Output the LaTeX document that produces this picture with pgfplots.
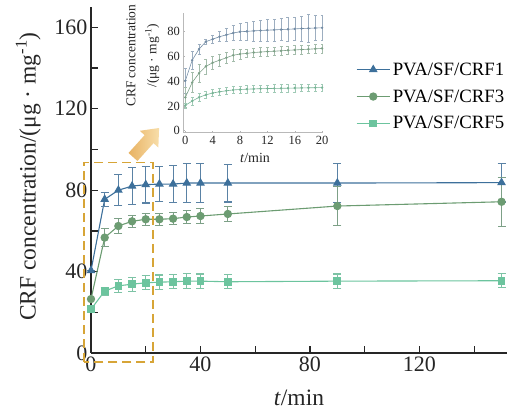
\documentclass[border=0pt]{standalone}
\usepackage{pgfplots}
\pgfplotsset{compat=1.18}
\usepackage{pgfplotstable}
\usepackage{fontspec}
\setmainfont{Liberation Serif}
\definecolor{cA}{RGB}{61,112,155}
\definecolor{cB}{RGB}{108,156,114}
\definecolor{cC}{RGB}{108,196,158}
\definecolor{eA}{RGB}{90,130,165}
\definecolor{eB}{RGB}{125,160,135}
\definecolor{eC}{RGB}{125,195,165}
\definecolor{iA}{RGB}{115,140,165}
\definecolor{iB}{RGB}{125,160,135}
\definecolor{iC}{RGB}{120,180,150}
\definecolor{gold}{RGB}{215,165,55}
\definecolor{arL}{RGB}{248,222,170}
\definecolor{arD}{RGB}{232,178,98}

\pgfplotstableread{
x y e
0 40.5 0
5 75.5 3.5
10 80 7.5
15 82 9
20 82.7 9
25 83 8.5
30 83 9
35 83.5 9.5
40 83.5 9.5
50 83.5 9.3
90 83.5 9.7
150 83.7 9.5
}\mainA
\pgfplotstableread{
x y e
0 26.5 0
5 56.7 4.5
10 62.4 3.5
15 64.7 3
20 65.7 3
25 65.7 3
30 66 3
35 66.8 3
40 67.3 3.5
50 68.3 3.5
90 72.2 9.6
150 74.3 12
}\mainB
\pgfplotstableread{
x y e
0 21.5 0
5 30.4 2
10 33 3.3
15 33.8 3.5
20 34.5 3.5
25 34.8 3.5
30 35 3.5
35 35.3 3.7
40 35.3 3.5
50 35 3.5
90 35.3 3.5
150 35.5 3.5
}\mainC
\pgfplotstableread{
x y e
0 40.5 10
1 57 7
2 66 4
3 72 2
4 74 3
5 76 4
6 77.5 5
7 79 6
8 80 7
9 80.3 7.5
10 80.7 8
11 81 8.5
12 81.3 9
13 81.5 9
14 81.8 9
15 82 9.5
16 82.3 9.5
17 82.6 10
18 82.8 11
19 83 10
20 83.2 10
}\insA
\pgfplotstableread{
x y e
0 27 8
1 39 8
2 46.5 7
3 52 6
4 55 5
5 57 5
6 59 4.5
7 61 4.5
8 62 4
9 62.5 3.5
10 63.2 3.5
11 63.6 3.5
12 64 3.5
13 64.3 3.5
14 64.6 3.5
15 65 3.5
16 65.3 3.5
17 65.6 3.5
18 65.9 3.5
19 66.2 3.5
20 66.5 3.5
}\insB
\pgfplotstableread{
x y e
0 20.5 2
1 24 3
2 27 3
3 29 3
4 30.5 3
5 31.5 3
6 32.3 3
7 33 3
8 33.3 3
9 33.6 3
10 33.8 3
11 34 3
12 34.1 3
13 34.2 3
14 34.3 3
15 34.4 3
16 34.5 3
17 34.6 3
18 34.7 3
19 34.8 3
20 34.9 3
}\insC

\begin{document}
\begin{tikzpicture}
\path[use as bounding box] (0pt,0pt) rectangle (511pt,411pt);
\begin{axis}[
  at={(91pt,58pt)}, anchor=south west,
  width=416pt, height=346pt, scale only axis,
  xmin=0, xmax=152, ymin=0, ymax=170,
  axis x line*=bottom, axis y line*=left,
  axis line style={line width=1.3pt, black!85, -},
  xtick={0,40,80,120}, minor xtick={20,60,100,140},
  ytick={0,40,80,120,160}, minor ytick={20,60,100,140},
  tick align=inside, major tick length=7pt, minor tick length=7pt,
  every tick/.style={line width=1.3pt, black!85},
  every minor tick/.style={line width=1.3pt, black!85},
  tick label style={font=\fontsize{22}{22}\selectfont, black!85},
  /pgf/number format/assume math mode=true,
  xlabel={\textit{t}/min},
  ylabel={CRF concentration/(μg · mg\textsuperscript{-1})},
  label style={font=\fontsize{23.5}{23.5}\selectfont, black!85},
  xlabel style={at={(axis description cs:0.5,-0.13)}, anchor=center},
  ylabel style={at={(axis description cs:-0.151,0.51)}, anchor=center},
  clip=false,
  legend style={at={(axis description cs:0.637,0.847)}, anchor=north west, draw=none, fill=none,
    font=\fontsize{18.8}{18.8}\selectfont, row sep=8pt, inner sep=0pt,
    nodes={inner sep=2.5pt}},
  legend cell align=left,
  legend image code/.code={\draw[mark repeat=2,mark phase=2] plot coordinates {(0pt,0pt) (16.5pt,0pt) (33pt,0pt)};},
]
\addplot[cA, line width=1.1pt, mark=triangle*, mark size=4pt, mark options={solid},
  error bars/.cd, y dir=both, y explicit, error bar style={eA, line width=1.1pt},
  error mark options={rotate=90, mark size=4pt, eA, line width=1.1pt}]
  table[x=x, y=y, y error=e]{\mainA};
\addlegendentry{PVA/SF/CRF1}
\addplot[cB, line width=1.1pt, mark=*, mark size=3.6pt, mark options={solid},
  error bars/.cd, y dir=both, y explicit, error bar style={eB, line width=1.1pt},
  error mark options={rotate=90, mark size=4pt, eB, line width=1.1pt}]
  table[x=x, y=y, y error=e]{\mainB};
\addlegendentry{PVA/SF/CRF3}
\addplot[cC, line width=1.1pt, mark=square*, mark size=3.3pt, mark options={solid},
  error bars/.cd, y dir=both, y explicit, error bar style={eC, line width=1.1pt},
  error mark options={rotate=90, mark size=4pt, eC, line width=1.1pt}]
  table[x=x, y=y, y error=e]{\mainC};
\addlegendentry{PVA/SF/CRF5}
\draw[gold, line width=1.8pt, dash pattern=on 9pt off 5pt] (axis cs:-2.6,-4.4) rectangle (axis cs:22.7,93.6);
\end{axis}

\begin{scope}[shift={(133pt,254pt)}, rotate=48]
\shade[left color=arD, right color=arL]
  (0pt,-6pt) -- (24pt,-6pt) -- (24pt,-12.5pt) -- (39pt,0pt) -- (24pt,12.5pt) -- (24pt,6pt) -- (0pt,6pt) -- cycle;
\end{scope}

\begin{axis}[
  at={(183.3pt,278.4pt)}, anchor=south west,
  width=139.5pt, height=119.4pt, scale only axis,
  xmin=-0.3, xmax=20.1, ymin=-1.5, ymax=95,
  axis x line*=bottom, axis y line*=left,
  axis line style={gray!55, line width=0.6pt, -},
  xtick={0,4,...,20}, ytick={0,20,...,80},
  tick align=inside, major tick length=2pt,
  every tick/.style={gray!60, line width=0.5pt},
  tick label style={font=\fontsize{12.5}{12.5}\selectfont, black!85},
  /pgf/number format/assume math mode=true,
  xlabel={\textit{t}/min},
  ylabel={CRF concentration\\/(μg · mg\textsuperscript{-1})},
  xlabel style={font=\fontsize{14}{14}\selectfont, black!85, at={(axis description cs:0.514,-0.21)}, anchor=center},
  ylabel style={font=\fontsize{13.5}{21}\selectfont, black!85, align=center, at={(axis description cs:-0.289,0.643)}, anchor=center},
]
\addplot[iA, line width=0.6pt, mark=*, mark size=0.9pt,
  error bars/.cd, y dir=both, y explicit, error bar style={iA!70, line width=0.5pt},
  error mark options={rotate=90, mark size=1.5pt, iA!70, line width=0.5pt}]
  table[x=x, y=y, y error=e]{\insA};
\addplot[iB, line width=0.6pt, mark=*, mark size=0.9pt,
  error bars/.cd, y dir=both, y explicit, error bar style={iB!70, line width=0.5pt},
  error mark options={rotate=90, mark size=1.5pt, iB!70, line width=0.5pt}]
  table[x=x, y=y, y error=e]{\insB};
\addplot[iC, line width=0.6pt, mark=*, mark size=0.9pt,
  error bars/.cd, y dir=both, y explicit, error bar style={iC!70, line width=0.5pt},
  error mark options={rotate=90, mark size=1.5pt, iC!70, line width=0.5pt}]
  table[x=x, y=y, y error=e]{\insC};
\end{axis}
\end{tikzpicture}
\end{document}
